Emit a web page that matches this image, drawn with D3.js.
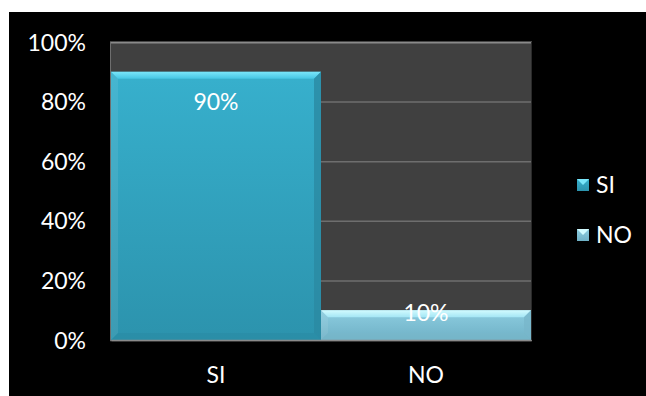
<!DOCTYPE html>
<html><head><meta charset="utf-8">
<script src="https://cdn.jsdelivr.net/npm/d3@7/dist/d3.min.js"></script>
<style>body{margin:0;background:#fff}svg{display:block}</style>
</head><body>
<svg id="c" width="646" height="396"></svg>
<script>
const categories = ["SI", "NO"];
const values = [0.90, 0.10];
const labels = ["90%", "10%"];
const yTicks = [0, 0.2, 0.4, 0.6, 0.8, 1.0];

const svg = d3.select("#c");
svg.append("rect").attr("x", 9).attr("y", 12).attr("width", 637).attr("height", 384).attr("fill", "#000");

const x = d3.scaleBand().domain(categories).range([111, 531]).padding(0);
const y = d3.scaleLinear().domain([0, 1]).range([340, 42]);

const defs = svg.append("defs");
const cols = {
  SI: {body: ["#37b0cd", "#2c93ad"], top: ["#7ae6fa", "#45c6e4"], side: "#2a8aa3"},
  NO: {body: ["#8dcde0", "#6fb1c6"], top: ["#d2fbff", "#a4e6f5"], side: "#78b7ca"}
};
categories.forEach(c => {
  const g = defs.append("linearGradient").attr("id", "b" + c).attr("x1", 0).attr("y1", 0).attr("x2", 0).attr("y2", 1);
  g.append("stop").attr("offset", 0).attr("stop-color", cols[c].body[0]);
  g.append("stop").attr("offset", 1).attr("stop-color", cols[c].body[1]);
  const t = defs.append("linearGradient").attr("id", "t" + c).attr("x1", 0).attr("y1", 0).attr("x2", 0).attr("y2", 1);
  t.append("stop").attr("offset", 0).attr("stop-color", cols[c].top[0]);
  t.append("stop").attr("offset", 1).attr("stop-color", cols[c].top[1]);
});

// plot area
svg.append("rect").attr("x", 110).attr("y", y(1)).attr("width", 422).attr("height", y(0) - y(1)).attr("fill", "#404040");
svg.append("g").selectAll("line").data(yTicks).join("line")
  .attr("x1", 110).attr("x2", 532).attr("y1", d => y(d) + 0.5).attr("y2", d => y(d) + 0.5)
  .attr("stroke", d => d === 1 ? "#8a8a8a" : "#6e6e6e").attr("stroke-width", d => d === 1 ? 2 : 1.5);
svg.append("line").attr("x1", 110.5).attr("x2", 110.5).attr("y1", y(1)).attr("y2", y(0)).attr("stroke", "#6e6e6e");
svg.append("line").attr("x1", 531.5).attr("x2", 531.5).attr("y1", y(1)).attr("y2", y(0)).attr("stroke", "#2a2a2a");

// bars
const bars = svg.append("g").selectAll("g").data(categories).join("g");
bars.append("rect")
  .attr("x", d => x(d)).attr("y", (d, i) => y(values[i]))
  .attr("width", x.bandwidth()).attr("height", (d, i) => y(0) - y(values[i]))
  .attr("fill", d => `url(#b${d})`);
const bv = 7;
bars.append("path").attr("fill", d => `url(#t${d})`).attr("d", (d, i) => {
  const x0 = x(d), x1 = x(d) + x.bandwidth(), yt = y(values[i]);
  return `M${x0},${yt}L${x1},${yt}L${x1 - bv},${yt + bv}L${x0 + bv},${yt + bv}Z`;
});
bars.append("path").attr("fill", d => cols[d].side).attr("opacity", 0.8).attr("d", (d, i) => {
  const x1 = x(d) + x.bandwidth(), yt = y(values[i]), yb = y(0);
  return `M${x1},${yt}L${x1},${yb}L${x1 - bv},${yb - bv}L${x1 - bv},${yt + bv}Z`;
});
bars.append("path").attr("fill", d => cols[d].side).attr("opacity", 0.6).attr("d", (d, i) => {
  const x0 = x(d), x1 = x(d) + x.bandwidth(), yb = y(0);
  return `M${x0},${yb}L${x1},${yb}L${x1 - bv},${yb - bv}L${x0 + bv},${yb - bv}Z`;
});
bars.append("path").attr("fill", "#ffffff").attr("opacity", 0.08).attr("d", (d, i) => {
  const x0 = x(d), yt = y(values[i]), yb = y(0);
  return `M${x0},${yt}L${x0 + bv},${yt + bv}L${x0 + bv},${yb - bv}L${x0},${yb}Z`;
});

const font = "Lato, 'Open Sans', sans-serif";
const fs = 23;
bars.append("text")
  .attr("x", d => x(d) + x.bandwidth() / 2)
  .attr("y", (d, i) => d === "NO" ? y(values[i]) + 11 : y(values[i]) + 38)
  .attr("text-anchor", "middle").attr("fill", "#fff").attr("font-family", font).attr("font-size", fs)
  .text((d, i) => labels[i]);

// axes
const yAxis = svg.append("g").attr("transform", "translate(86,0)")
  .call(d3.axisLeft(y).tickValues(yTicks).tickFormat(d3.format(".0%")).tickSize(0).tickPadding(0));
yAxis.select(".domain").remove();
yAxis.selectAll("text").attr("fill", "#fff").attr("font-family", font).attr("font-size", fs).attr("dy", "0.35em");

const xAxis = svg.append("g").attr("transform", `translate(0,${y(0)})`)
  .call(d3.axisBottom(x).tickSize(0).tickPadding(27));
xAxis.select(".domain").attr("stroke", "#8a8a8a").attr("stroke-width", 1.5);
xAxis.selectAll("text").attr("fill", "#fff").attr("font-family", font).attr("font-size", fs);

// legend
const leg = svg.append("g").selectAll("g").data(categories).join("g")
  .attr("transform", (d, i) => `translate(577,${179 + i * 50})`);
leg.append("rect").attr("width", 12).attr("height", 12).attr("fill", d => `url(#b${d})`);
leg.append("path").attr("d", "M0,0L12,0L6,6Z").attr("fill", d => cols[d].top[0]);
leg.append("text").attr("x", 19).attr("y", 6).attr("dy", "0.35em").attr("fill", "#fff")
  .attr("font-family", font).attr("font-size", fs).text(d => d);
</script>
</body></html>
